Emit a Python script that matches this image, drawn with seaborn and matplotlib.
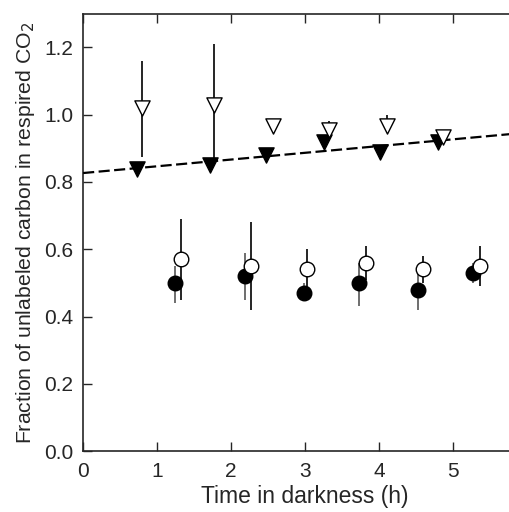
import numpy as np
import pandas as pd
import matplotlib
matplotlib.use('Agg')
import matplotlib.pyplot as plt
import seaborn as sns

# filled triangles
tri_f_x = [0.73, 1.71, 2.47, 3.25, 4.01, 4.79]
tri_f_y = [0.84, 0.85, 0.88, 0.92, 0.89, 0.92]
tri_f_lo = [0.83, 0.84, 0.87, 0.90, 0.88, 0.90]
tri_f_hi = [0.86, 0.86, 0.89, 0.93, 0.90, 0.93]

# open triangles
tri_o_x = [0.79, 1.77, 2.56, 3.32, 4.10, 4.86]
tri_o_y = [1.02, 1.03, 0.965, 0.955, 0.965, 0.935]
tri_o_lo = [0.875, 0.865, 0.965, 0.94, 0.955, 0.93]
tri_o_hi = [1.16, 1.21, 0.965, 0.98, 1.00, 0.94]

# filled circles
cir_f_x = [1.24, 2.19, 2.98, 3.73, 4.52, 5.27]
cir_f_y = [0.50, 0.52, 0.47, 0.50, 0.48, 0.53]
cir_f_lo = [0.44, 0.45, 0.45, 0.43, 0.42, 0.50]
cir_f_hi = [0.55, 0.59, 0.50, 0.56, 0.54, 0.56]

# open circles
cir_o_x = [1.32, 2.27, 3.03, 3.82, 4.59, 5.36]
cir_o_y = [0.57, 0.55, 0.54, 0.56, 0.54, 0.55]
cir_o_lo = [0.45, 0.42, 0.48, 0.51, 0.50, 0.49]
cir_o_hi = [0.69, 0.68, 0.60, 0.61, 0.58, 0.61]

sns.set_style('ticks')
plt.rcParams['font.family'] = ['Liberation Sans', 'DejaVu Sans']

fig = plt.figure(figsize=(5.1, 5.12), dpi=100)
# the original axes runs to x = 6 and is cut by the right image border
ax = fig.add_axes([0.163, 0.119, 0.8706, 0.854])
ax.set_xlim(0, 6)
ax.set_ylim(0, 1.3)

groups = [
    (tri_f_x, tri_f_y, tri_f_lo, tri_f_hi, 'v', 'black', '#444444'),
    (tri_o_x, tri_o_y, tri_o_lo, tri_o_hi, 'v', 'white', 'black'),
    (cir_f_x, cir_f_y, cir_f_lo, cir_f_hi, 'o', 'black', '#555555'),
    (cir_o_x, cir_o_y, cir_o_lo, cir_o_hi, 'o', 'white', 'black'),
]

for gx, gy, lo, hi, mk, fc, ec in groups:
    gy_a = np.array(gy)
    yerr = [gy_a - np.array(lo), np.array(hi) - gy_a]
    ax.errorbar(gx, gy, yerr=yerr, fmt='none', ecolor=ec, elinewidth=1.2,
                capsize=0, zorder=2)

# regression line of the filled triangles
dfTri = pd.DataFrame({'x': tri_f_x, 'y': tri_f_y})
sns.regplot(data=dfTri, x='x', y='y', scatter=False, ci=None, truncate=False,
            color='black', line_kws={'linestyle': (0, (5, 2)), 'linewidth': 1.6,
                                     'zorder': 3}, ax=ax)

for gx, gy, lo, hi, mk, fc, ec in groups:
    size = 110 if mk == 'o' else 120
    sns.scatterplot(x=gx, y=gy, marker=mk, s=size, color=fc,
                    edgecolor='black', linewidth=1.0, zorder=4, ax=ax)

ax.set_xlim(0, 6)
ax.set_ylim(0, 1.3)
ax.set_xticks([0, 1, 2, 3, 4, 5])
ax.set_yticks([0.0, 0.2, 0.4, 0.6, 0.8, 1.0, 1.2])
ax.set_yticklabels(['0.0', '0.2', '0.4', '0.6', '0.8', '1.0', '1.2'])
ax.tick_params(direction='in', length=6.5, width=1, labelsize=15,
               top=True, right=False)
ax.tick_params(axis='x', pad=8)
ax.tick_params(axis='y', pad=7)
ax.spines['right'].set_visible(False)
for s in ['left', 'bottom', 'top']:
    ax.spines[s].set_linewidth(1.2)

ax.set_xlabel('Time in darkness (h)', fontsize=16.5, labelpad=3)
ax.set_ylabel('Fraction of unlabeled carbon in respired CO$_2$', fontsize=15.3,
              labelpad=5)

fig.savefig('out.png', dpi=100)
plt.close(fig)
